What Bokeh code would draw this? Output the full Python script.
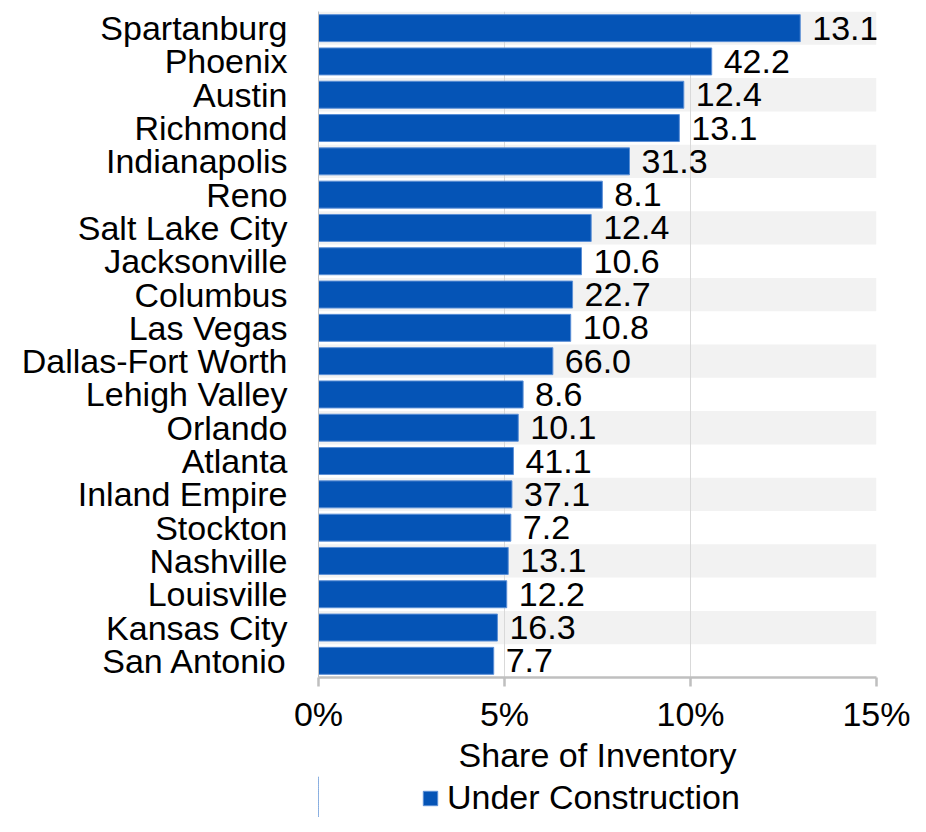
from bokeh.plotting import figure
from bokeh.layouts import column
from bokeh.models import (FactorRange, Range1d, FixedTicker, NumeralTickFormatter,
                          Legend, LegendItem, ColumnDataSource)
from bokeh.core.properties import value
from bokeh.embed import file_html
from bokeh.resources import INLINE

# ---- data (top to bottom) ----
markets = ["Spartanburg", "Phoenix", "Austin", "Richmond", "Indianapolis", "Reno",
           "Salt Lake City", "Jacksonville", "Columbus", "Las Vegas",
           "Dallas-Fort Worth", "Lehigh Valley", "Orlando", "Atlanta",
           "Inland Empire", "Stockton", "Nashville", "Louisville",
           "Kansas City", "San Antonio"]
share_pct = [12.95, 10.57, 9.82, 9.70, 8.36, 7.63, 7.33, 7.07, 6.83, 6.78,
             6.30, 5.50, 5.37, 5.24, 5.20, 5.17, 5.10, 5.06, 4.81, 4.71]
volume_labels = ["13.1", "42.2", "12.4", "13.1", "31.3", "8.1", "12.4", "10.6",
                 "22.7", "10.8", "66.0", "8.6", "10.1", "41.1", "37.1", "7.2",
                 "13.1", "12.2", "16.3", "7.7"]
x_ticks = [0, 0.05, 0.10, 0.15]
x_title = "Share of Inventory"
series_name = "Under Construction"

FONT = "Liberation Sans"
BAR = "#0554b6"
BAR_LINE = "#5b8fd6"

share = [v / 100.0 for v in share_pct]
src = ColumnDataSource(dict(market=markets, share=share, lab=volume_labels))
band_src = ColumnDataSource(dict(market=markets[0::2], right=[x_ticks[-1]] * len(markets[0::2])))

p = figure(frame_width=558, frame_height=666,
           x_range=Range1d(x_ticks[0], x_ticks[-1]),
           y_range=FactorRange(factors=markets[::-1]),
           output_backend="svg", toolbar_location=None,
           min_border_left=318, min_border_top=11, min_border_right=34,
           min_border_bottom=0)
p.outline_line_color = None
p.background_fill_color = "white"

# alternating row bands
p.hbar(y="market", left=0, right="right", height=1.0, source=band_src,
       fill_color="#f2f2f2", line_color=None, level="image")

bars = p.hbar(y="market", left=0, right="share", height=0.81, source=src,
              fill_color=BAR, line_color=BAR_LINE, line_width=1)

p.text(x="share", y="market", text="lab", source=src, x_offset=12,
       text_align="left", text_baseline="middle", text_font=value(FONT),
       text_font_size="34px", text_color="black")

# grid
p.ygrid.grid_line_color = None
p.xgrid.ticker = FixedTicker(ticks=x_ticks)
p.xgrid.grid_line_color = "#d9d9d9"
p.xgrid.grid_line_width = 1
p.xgrid.level = "underlay"

# x axis
xa = p.xaxis[0]
xa.ticker = FixedTicker(ticks=x_ticks)
xa.formatter = NumeralTickFormatter(format="0%")
xa.axis_line_color = "#bfbfbf"
xa.axis_line_width = 2.5
xa.major_tick_line_color = "#bfbfbf"
xa.major_tick_line_width = 2.5
xa.major_tick_out = 9
xa.major_tick_in = 0
xa.minor_tick_line_color = None
xa.major_label_text_font = FONT
xa.major_label_text_font_size = "34px"
xa.major_label_text_color = "black"
xa.major_label_standoff = 8
xa.axis_label = x_title
xa.axis_label_text_font = FONT
xa.axis_label_text_font_size = "34px"
xa.axis_label_text_font_style = "normal"
xa.axis_label_text_color = "black"
xa.axis_label_standoff = 0

# y axis
ya = p.yaxis[0]
ya.axis_line_color = "#bfbfbf"
ya.axis_line_width = 1
ya.major_tick_line_color = None
ya.major_tick_out = 0
ya.major_tick_in = 0
ya.minor_tick_line_color = None
ya.major_label_text_font = FONT
ya.major_label_text_font_size = "34px"
ya.major_label_text_color = "black"
ya.major_label_standoff = 31

# ---- legend strip below the chart (frame aligned with the chart frame) ----
lg = figure(width=910, height=41, x_range=Range1d(1, 2),
            y_range=FactorRange(factors=markets[::-1]),
            output_backend="svg", toolbar_location=None,
            x_axis_type=None, y_axis_type=None, min_border=0)
lg.outline_line_color = None
lg.grid.visible = False
# same series, kept outside this strip's visible range; only its swatch shows
swatch = lg.hbar(y="market", left=0, right="share", height=0.81, source=src,
                 fill_color=BAR, line_color=BAR_LINE, line_width=1)
legend = Legend(items=[LegendItem(label=series_name, renderers=[swatch])],
                orientation="horizontal", location=(103, 0),
                label_text_font=FONT, label_text_font_size="34px",
                label_text_color="black", glyph_width=18, glyph_height=18,
                label_standoff=8, padding=0, margin=0, spacing=0,
                border_line_color=None, background_fill_alpha=0)
lg.add_layout(legend, "center")

layout = column(p, lg, spacing=0)
open("out.html", "w").write(file_html(layout, INLINE))
